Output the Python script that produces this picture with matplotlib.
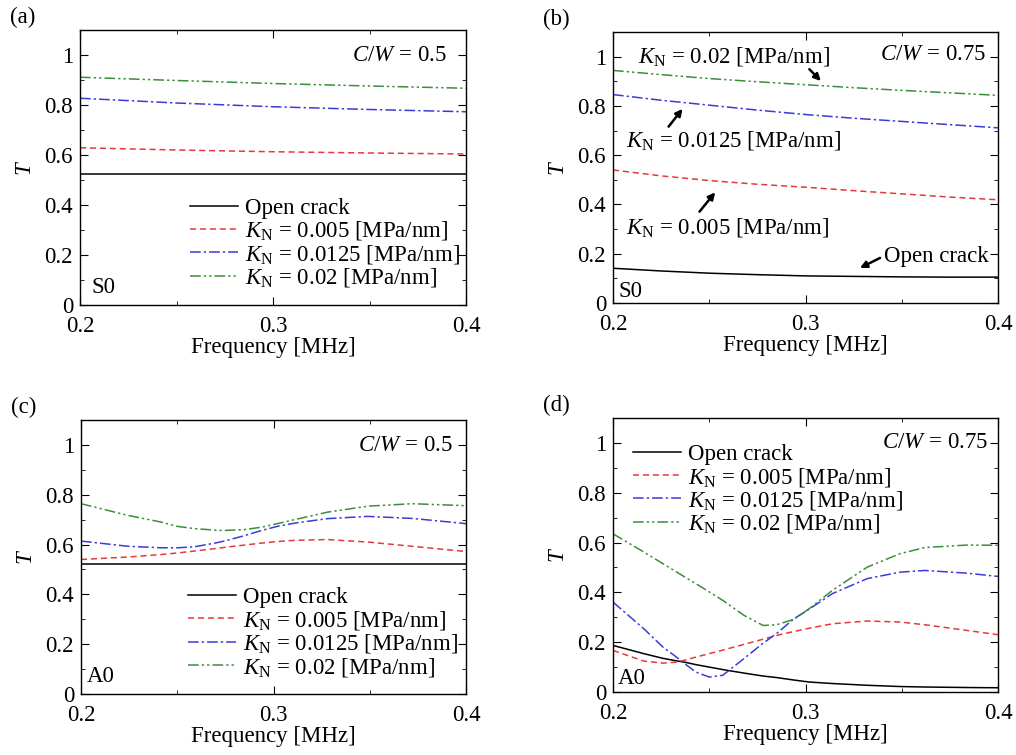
import matplotlib
matplotlib.use("Agg")
import matplotlib.pyplot as plt
from matplotlib.ticker import MultipleLocator, FormatStrFormatter, FuncFormatter

FS = 16.5
plt.rcParams.update({
    "font.family": ["Liberation Serif", "DejaVu Serif"],
    "mathtext.fontset": "custom",
    "mathtext.rm": "Liberation Serif",
    "mathtext.it": "Liberation Serif:italic",
    "font.size": FS,
    "axes.linewidth": 1.0,
    "xtick.direction": "in",
    "ytick.direction": "in",
    "xtick.top": True,
    "ytick.right": True,
    "xtick.major.size": 6,
    "ytick.major.size": 6,
    "xtick.minor.size": 3,
    "ytick.minor.size": 3,
    "xtick.minor.visible": True,
    "ytick.minor.visible": True,
})

RED = "#e8393a"
BLUE = "#3b3bd6"
GREEN = "#3a8f3a"
LABELS = ["Open crack",
          r"$K_{\rm N}$ = 0.005 [MPa/nm]",
          r"$K_{\rm N}$ = 0.0125 [MPa/nm]",
          r"$K_{\rm N}$ = 0.02 [MPa/nm]"]
STYLES = [dict(color="black", ls="-"),
          dict(color=RED, ls=(0, (4, 2.5))),
          dict(color=BLUE, ls=(0, (7, 2, 1.5, 2))),
          dict(color=GREEN, ls=(0, (7, 2, 1.5, 2, 1.5, 2)))]

# ---- (a) S0, C/W = 0.5
a_x = [0.2, 0.25, 0.3, 0.35, 0.4]
a_open = [0.524, 0.524, 0.524, 0.524, 0.524]
a_k005 = [0.629, 0.620, 0.613, 0.608, 0.604]
a_k0125 = [0.827, 0.808, 0.793, 0.782, 0.773]
a_k02 = [0.911, 0.898, 0.886, 0.876, 0.867]

# ---- (b) S0, C/W = 0.75
b_x = [0.2, 0.225, 0.25, 0.275, 0.3, 0.325, 0.35, 0.375, 0.4]
b_open = [0.141, 0.130, 0.121, 0.115, 0.110, 0.108, 0.106, 0.105, 0.105]
b_k005 = [0.540, 0.516, 0.497, 0.482, 0.470, 0.456, 0.443, 0.430, 0.419]
b_k0125 = [0.846, 0.823, 0.803, 0.783, 0.765, 0.750, 0.737, 0.724, 0.711]
b_k02 = [0.944, 0.927, 0.911, 0.898, 0.886, 0.874, 0.863, 0.853, 0.843]

# ---- (c) A0, C/W = 0.5
c_x = [0.2, 0.2244, 0.2417, 0.25, 0.259, 0.271, 0.276, 0.285, 0.294,
       0.302, 0.311, 0.328, 0.349, 0.372, 0.4]
c_open = [0.521] * 15
c_k005 = [0.540, 0.550, 0.560, 0.566, 0.574, 0.585, 0.590, 0.598, 0.606,
          0.612, 0.617, 0.620, 0.610, 0.593, 0.572]
c_k0125 = [0.614, 0.593, 0.587, 0.587, 0.591, 0.608, 0.617, 0.636, 0.657,
           0.673, 0.686, 0.704, 0.713, 0.705, 0.684]
c_k02 = [0.764, 0.717, 0.690, 0.673, 0.664, 0.657, 0.657, 0.660, 0.670,
         0.684, 0.700, 0.730, 0.754, 0.764, 0.756]

# ---- (d) A0, C/W = 0.75
d_x = [0.2, 0.216, 0.226, 0.233, 0.237, 0.243, 0.25, 0.257, 0.268, 0.278,
       0.285, 0.294, 0.302, 0.314, 0.332, 0.349, 0.362, 0.384, 0.4]
d_open = [0.187, 0.154, 0.135, 0.125, 0.120, 0.110, 0.100, 0.090, 0.076, 0.064,
          0.058, 0.048, 0.040, 0.034, 0.027, 0.022, 0.020, 0.018, 0.017]
d_k005 = [0.167, 0.124, 0.116, 0.120, 0.127, 0.140, 0.154, 0.168, 0.191, 0.212,
          0.227, 0.243, 0.256, 0.274, 0.285, 0.281, 0.270, 0.247, 0.230]
d_k0125 = [0.361, 0.254, 0.180, 0.140, 0.115, 0.080, 0.060, 0.067, 0.134, 0.196,
           0.235, 0.294, 0.333, 0.395, 0.455, 0.481, 0.488, 0.477, 0.464]
d_k02 = [0.635, 0.562, 0.515, 0.482, 0.463, 0.435, 0.402, 0.368, 0.308, 0.267,
         0.270, 0.292, 0.335, 0.408, 0.501, 0.555, 0.580, 0.590, 0.589]

# tag, mode, C/W, x, series, mode-label pos, C/W right-edge pos
PANELS = [
    ("(a)", "S0", "0.5", a_x, [a_open, a_k005, a_k0125, a_k02], (0.206, 0.07), (0.390, 1.0)),
    ("(b)", "S0", "0.75", b_x, [b_open, b_k005, b_k0125, b_k02], (0.2026, 0.047), (0.394, 1.009)),
    ("(c)", "A0", "0.5", c_x, [c_open, c_k005, c_k0125, c_k02], (0.203, 0.071), (0.393, 0.997)),
    ("(d)", "A0", "0.75", d_x, [d_open, d_k005, d_k0125, d_k02], (0.2026, 0.056), (0.395, 1.0)),
]

# axes rectangles in pixels: left, top, right, bottom
W, H = 1016, 755
RECTS = [(80, 30, 466, 305), (613, 32, 998, 303),
         (81, 420, 466, 694), (613, 418, 998, 692)]


def fmt(v, _):
    s = f"{v:.1f}"
    return {"0.0": "0", "1.0": "1"}.get(s, s)


fig = plt.figure(figsize=(W / 100, H / 100), dpi=100)
axes = []
for (tag, mode, cw, x, ys, mpos, cpos), (l, t, r, b) in zip(PANELS, RECTS):
    ax = fig.add_axes([l / W, 1 - b / H, (r - l) / W, (b - t) / H])
    for y, lab, st in zip(ys, LABELS, STYLES):
        ax.plot(x, y, lw=1.1, label=lab, **st)
    ax.set_xlim(0.2, 0.4)
    ax.set_ylim(0, 1.1)
    ax.xaxis.set_major_locator(MultipleLocator(0.1))
    ax.xaxis.set_minor_locator(MultipleLocator(0.05))
    ax.yaxis.set_major_locator(MultipleLocator(0.2))
    ax.yaxis.set_minor_locator(MultipleLocator(0.1))
    ax.xaxis.set_major_formatter(FormatStrFormatter("%.1f"))
    ax.yaxis.set_major_formatter(FuncFormatter(fmt))
    ax.tick_params(axis="x", which="both", pad=8)
    ax.tick_params(axis="y", which="both", pad=5)
    ax.set_xlabel("Frequency [MHz]", labelpad=0)
    ax.set_ylabel(r"$T$", labelpad=6)
    ax.text(cpos[0], cpos[1], r"$C/W$ = " + cw, ha="right", va="center")
    ax.text(mpos[0], mpos[1], mode, ha="left", va="center")
    fig.text((l - 70) / W, 1 - (t - 13) / H, tag, ha="left", va="center")
    axes.append(ax)

leg_kw = dict(frameon=False, borderpad=0, borderaxespad=0, handlelength=2.1,
              handletextpad=0.3, labelspacing=0.02, fontsize=FS)
axes[0].legend(loc="upper left", bbox_to_anchor=(0.285, 0.39), **leg_kw)
axes[2].legend(loc="upper left", bbox_to_anchor=(0.278, 0.39), **leg_kw)
axes[3].legend(loc="upper left", bbox_to_anchor=(0.052, 0.905), **leg_kw)

# (b) arrow annotations
axb = axes[1]
arrow = dict(arrowstyle="-|>", color="black", lw=1.8, mutation_scale=10)
axb.text(0.213, 1.0, LABELS[3], ha="left", va="center")
axb.annotate("", xy=(0.309, 0.893), xytext=(0.301, 0.957), arrowprops=arrow)
axb.text(0.207, 0.658, LABELS[2], ha="left", va="center")
axb.annotate("", xy=(0.237, 0.797), xytext=(0.228, 0.707), arrowprops=arrow)
axb.text(0.207, 0.305, LABELS[1], ha="left", va="center")
axb.annotate("", xy=(0.254, 0.458), xytext=(0.244, 0.362), arrowprops=arrow)
axb.text(0.341, 0.19, "Open crack", ha="left", va="center")
axb.annotate("", xy=(0.327, 0.137), xytext=(0.340, 0.188), arrowprops=arrow)

fig.savefig("out.png", dpi=100)
